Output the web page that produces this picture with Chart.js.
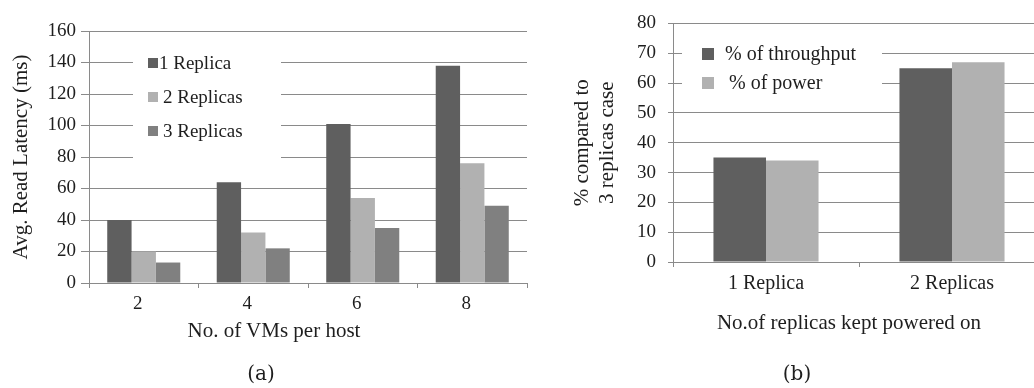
<!DOCTYPE html>
<html>
<head>
<meta charset="utf-8">
<script src="https://cdn.jsdelivr.net/npm/chart.js@4/dist/chart.umd.min.js"></script>
<style>
  html, body { margin: 0; padding: 0; background: #fff; }
  body { width: 1034px; height: 388px; overflow: hidden; position: relative; font-family: "Liberation Serif", serif; color: #1e1e1e; }
  .pane { position: absolute; top: 0; }
  #paneA { left: 0; width: 540px; height: 388px; }
  #paneB { left: 540px; width: 520px; height: 388px; }
  .xtitle { position: absolute; font-size: 21px; white-space: nowrap; transform: translate(-50%, -50%); }
  .caption { position: absolute; font-family: "DejaVu Serif", serif; font-size: 20px; transform: translate(-50%, -50%); }
</style>
</head>
<body>
<div class="pane" id="paneA"><canvas id="chartA" width="540" height="388"></canvas></div>
<div class="pane" id="paneB"><canvas id="chartB" width="520" height="388"></canvas></div>
<div class="xtitle" style="left:274px; top:330px;">No. of VMs per host</div>
<div class="xtitle" style="left:849px; top:322px;">No.of replicas kept powered on</div>
<div class="caption" style="left:261px; top:373px;">(a)</div>
<div class="caption" style="left:797px; top:373px;">(b)</div>
<script>
// (a) read latency by VMs per host
const vmsPerHost = ['2', '4', '6', '8'];
const latencyOneReplica = [40, 64, 101, 138];
const latencyTwoReplicas = [20, 32, 54, 76];
const latencyThreeReplicas = [13, 22, 35, 49];
const latencySeriesNames = ['1 Replica', '2 Replicas', '3 Replicas'];

// (b) share of throughput / power relative to the 3-replica case
const replicasPoweredOn = ['1 Replica', '2 Replicas'];
const throughputPercent = [35, 65];
const powerPercent = [34, 67];
const percentSeriesNames = ['% of throughput', '% of power'];

const DARK = '#5f5f5f';
const LIGHT = '#b1b1b1';
const MID = '#808080';
const GRID = '#8a8a8a';
const TEXT = '#1e1e1e';

Chart.defaults.font.family = '"Liberation Serif", serif';
Chart.defaults.color = TEXT;
Chart.defaults.animation = false;

// Legend drawn inside the plot on a white patch that hides the gridlines behind it
const boxLegend = {
  id: 'boxLegend',
  beforeDatasetsDraw(chart, args, opts) {
    const ctx = chart.ctx;
    ctx.save();
    ctx.fillStyle = '#ffffff';
    const [x0, y0, x1, y1] = opts.patch;
    ctx.fillRect(x0, y0, x1 - x0, y1 - y0);
    ctx.font = opts.fontSize + 'px "Liberation Serif", serif';
    ctx.textBaseline = 'middle';
    ctx.textAlign = 'left';
    chart.data.datasets.forEach((ds, i) => {
      const y = opts.rows[i];
      ctx.fillStyle = ds.backgroundColor;
      ctx.fillRect(opts.squareX, y - opts.square / 2, opts.square, opts.square);
      ctx.fillStyle = TEXT;
      ctx.fillText(ds.label, opts.textX[i], y + 1);
    });
    ctx.restore();
  }
};

function fixWidth(w) { return scale => { scale.width = w; }; }
function fixHeight(h) { return scale => { scale.height = h; }; }

new Chart(document.getElementById('chartA'), {
  type: 'bar',
  data: {
    labels: vmsPerHost,
    datasets: [
      { label: latencySeriesNames[0], data: latencyOneReplica, backgroundColor: DARK },
      { label: latencySeriesNames[1], data: latencyTwoReplicas, backgroundColor: LIGHT },
      { label: latencySeriesNames[2], data: latencyThreeReplicas, backgroundColor: MID }
    ]
  },
  options: {
    responsive: false,
    layout: { padding: { left: 0, right: 13, top: 31, bottom: 0 } },
    datasets: { bar: { categoryPercentage: 0.667, barPercentage: 1.0, borderWidth: 0 } },
    plugins: {
      legend: { display: false },
      tooltip: { enabled: false },
      boxLegend: {
        patch: [133, 42, 281, 170],
        rows: [63, 97, 131],
        square: 10,
        squareX: 148,
        textX: [159, 163, 163],
        fontSize: 19
      }
    },
    scales: {
      x: {
        afterFit: fixHeight(105),
        grid: { display: true, drawOnChartArea: false, drawTicks: true, tickLength: 5, color: GRID, offset: true },
        border: { display: true, color: GRID },
        ticks: { font: { size: 19 }, padding: 5, labelOffset: -6, color: TEXT }
      },
      y: {
        min: 0, max: 160,
        afterFit: fixWidth(89),
        grid: { color: GRID, tickLength: 8 },
        border: { display: true, color: GRID },
        ticks: { stepSize: 20, font: { size: 19 }, padding: 5, color: TEXT },
        title: { display: true, text: 'Avg. Read Latency (ms)', font: { size: 21 }, padding: { top: 9, bottom: 0 }, color: TEXT }
      }
    }
  },
  plugins: [boxLegend]
});

new Chart(document.getElementById('chartB'), {
  type: 'bar',
  data: {
    labels: replicasPoweredOn,
    datasets: [
      { label: percentSeriesNames[0], data: throughputPercent, backgroundColor: DARK },
      { label: percentSeriesNames[1], data: powerPercent, backgroundColor: LIGHT }
    ]
  },
  options: {
    responsive: false,
    layout: { padding: { left: 0, right: 15, top: 16, bottom: 0 } },
    datasets: { bar: { categoryPercentage: 0.565, barPercentage: 1.0, borderWidth: 0 } },
    plugins: {
      legend: { display: false },
      tooltip: { enabled: false },
      boxLegend: {
        patch: [142, 34, 342, 94],
        rows: [54, 83],
        square: 12,
        squareX: 162,
        textX: [185, 189],
        fontSize: 20
      }
    },
    scales: {
      x: {
        afterFit: fixHeight(126),
        grid: { display: true, drawOnChartArea: false, drawTicks: true, tickLength: 5, color: GRID, offset: true },
        border: { display: true, color: GRID },
        ticks: { font: { size: 20 }, padding: 5, color: TEXT }
      },
      y: {
        min: 0, max: 80,
        afterFit: fixWidth(133),
        grid: { color: GRID, tickLength: 5 },
        border: { display: true, color: GRID },
        ticks: { stepSize: 10, font: { size: 19 }, padding: 12, color: TEXT },
        title: { display: true, text: ['% compared to', '3 replicas case'], font: { size: 21 }, padding: { top: 30, bottom: 0 }, color: TEXT }
      }
    }
  },
  plugins: [boxLegend]
});
</script>
</body>
</html>
